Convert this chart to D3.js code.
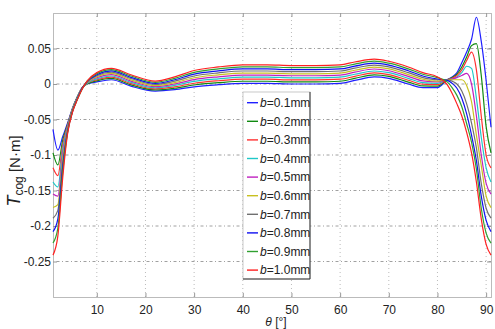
<!DOCTYPE html>
<html>
<head>
<meta charset="utf-8">
<script src="https://cdn.jsdelivr.net/npm/d3@7"></script>
<style>
  body { margin: 0; background: #fff; }
  text { font-family: "Liberation Sans", Arial, sans-serif; }
</style>
</head>
<body>
<div id="chart"></div>
<script>
// rotor angle, degrees
const thetaDeg = [1, 2, 3, 4, 5, 6, 7, 8, 10, 13, 17, 22, 26, 30, 35, 40, 45, 50, 55, 60, 63, 67, 70, 74, 77, 80, 82, 83, 84, 85, 86, 87, 88, 89, 90, 91];

// cogging torque, N·m, one array per b
const tcog01 = [-0.064, -0.093, -0.074, -0.055, -0.034, -0.018, -0.005, 0.000, 0.003, 0.006, -0.003, -0.010, -0.008, -0.004, -0.001, 0.001, 0.001, 0.000, 0.000, 0.001, 0.005, 0.010, 0.008, 0.000, -0.005, -0.005, 0.006, 0.010, 0.016, 0.030, 0.045, 0.063, 0.094, 0.060, 0.005, -0.061];
const tcog02 = [-0.097, -0.114, -0.079, -0.057, -0.035, -0.018, -0.005, 0.000, 0.0044, 0.0078, -0.0012, -0.0084, -0.006, -0.0014, 0.0018, 0.0039, 0.0039, 0.0029, 0.0029, 0.0039, 0.0079, 0.0128, 0.0107, 0.0027, -0.0027, -0.003, 0.006, 0.009, 0.014, 0.024, 0.038, 0.054, 0.057, 0.012, -0.060, -0.097];
const tcog03 = [-0.118, -0.129, -0.085, -0.058, -0.035, -0.019, -0.005, 0.001, 0.0059, 0.0096, 0.0006, -0.0069, -0.004, 0.0011, 0.0046, 0.0068, 0.0068, 0.0058, 0.0058, 0.0068, 0.0108, 0.0156, 0.0133, 0.0053, -0.0003, -0.001, 0.006, 0.008, 0.012, 0.020, 0.033, 0.045, 0.020, -0.045, -0.100, -0.118];
const tcog04 = [-0.138, -0.145, -0.091, -0.060, -0.036, -0.019, -0.006, 0.001, 0.0073, 0.0113, 0.0023, -0.0053, -0.002, 0.0037, 0.0073, 0.0097, 0.0097, 0.0087, 0.0087, 0.0097, 0.0137, 0.0183, 0.016, 0.008, 0.002, 0.001, 0.006, 0.007, 0.010, 0.016, 0.025, 0.022, -0.020, -0.075, -0.118, -0.138];
const tcog05 = [-0.155, -0.158, -0.098, -0.062, -0.037, -0.020, -0.006, 0.002, 0.0088, 0.0131, 0.0041, -0.0038, 0.000, 0.0062, 0.0101, 0.0126, 0.0126, 0.0116, 0.0116, 0.0126, 0.0166, 0.0211, 0.0187, 0.0107, 0.0043, 0.003, 0.006, 0.007, 0.009, 0.012, 0.015, 0.000, -0.045, -0.100, -0.140, -0.155];
const tcog06 = [-0.174, -0.170, -0.104, -0.064, -0.037, -0.020, -0.006, 0.002, 0.0102, 0.0149, 0.0059, -0.0022, 0.002, 0.0088, 0.0129, 0.0154, 0.0154, 0.0144, 0.0144, 0.0154, 0.0194, 0.0239, 0.0213, 0.0133, 0.0067, 0.004, 0.006, 0.006, 0.006, 0.006, -0.002, -0.025, -0.072, -0.115, -0.158, -0.174];
const tcog07 = [-0.189, -0.178, -0.111, -0.065, -0.038, -0.021, -0.006, 0.003, 0.0117, 0.0167, 0.0077, -0.0007, 0.004, 0.0113, 0.0157, 0.0183, 0.0183, 0.0173, 0.0173, 0.0183, 0.0223, 0.0267, 0.024, 0.016, 0.009, 0.006, 0.006, 0.004, 0.000, -0.010, -0.028, -0.055, -0.090, -0.140, -0.175, -0.189];
const tcog08 = [-0.208, -0.190, -0.117, -0.067, -0.039, -0.021, -0.006, 0.003, 0.0131, 0.0184, 0.0094, 0.0009, 0.006, 0.0139, 0.0184, 0.0212, 0.0212, 0.0202, 0.0202, 0.0212, 0.0252, 0.0294, 0.0267, 0.0187, 0.0113, 0.007, 0.005, 0.001, -0.006, -0.020, -0.042, -0.072, -0.108, -0.158, -0.192, -0.208];
const tcog09 = [-0.224, -0.203, -0.124, -0.068, -0.039, -0.022, -0.007, 0.004, 0.0146, 0.0202, 0.0112, 0.0024, 0.008, 0.0164, 0.0212, 0.0241, 0.0241, 0.0231, 0.0231, 0.0241, 0.0281, 0.0322, 0.0293, 0.0213, 0.0137, 0.009, 0.003, -0.005, -0.016, -0.032, -0.056, -0.082, -0.120, -0.175, -0.210, -0.224];
const tcog10 = [-0.241, -0.214, -0.132, -0.070, -0.040, -0.022, -0.007, 0.004, 0.016, 0.022, 0.013, 0.004, 0.010, 0.019, 0.024, 0.027, 0.027, 0.026, 0.026, 0.027, 0.031, 0.035, 0.032, 0.024, 0.016, 0.010, -0.001, -0.013, -0.028, -0.045, -0.068, -0.097, -0.138, -0.190, -0.226, -0.241];

const bValues = ['0.1', '0.2', '0.3', '0.4', '0.5', '0.6', '0.7', '0.8', '0.9', '1.0'];
const xTicks = [10, 20, 30, 40, 50, 60, 70, 80, 90];
const yTicks = [-0.25, -0.2, -0.15, -0.1, -0.05, 0, 0.05];

const seriesData = [tcog01, tcog02, tcog03, tcog04, tcog05, tcog06, tcog07, tcog08, tcog09, tcog10];
const colors = ['#1f1fff', '#108a10', '#ff3030', '#1fc8c8', '#c020c0', '#c8c020', '#707070', '#1010f0', '#30a030', '#ff2020'];

const width = 495;
const height = 329;
const margin = { top: 13, right: 4, bottom: 32, left: 53 };

const svg = d3.select('#chart')
  .append('svg')
  .attr('width', width)
  .attr('height', height)
  .attr('viewBox', [0, 0, width, height]);

const x = d3.scaleLinear()
  .domain([1, 91])
  .range([margin.left, width - margin.right]);

const y = d3.scaleLinear()
  .domain([-0.3, 0.1])
  .range([height - margin.bottom, margin.top]);

// grid
svg.append('g')
  .selectAll('line')
  .data(xTicks)
  .join('line')
  .attr('x1', (d) => x(d))
  .attr('x2', (d) => x(d))
  .attr('y1', y(-0.3))
  .attr('y2', y(0.1))
  .attr('stroke', '#aaa')
  .attr('stroke-width', 0.8)
  .attr('stroke-dasharray', '1 3');

svg.append('g')
  .selectAll('line')
  .data(yTicks)
  .join('line')
  .attr('x1', x(1))
  .attr('x2', x(91))
  .attr('y1', (d) => y(d))
  .attr('y2', (d) => y(d))
  .attr('stroke', '#888')
  .attr('stroke-width', 0.8)
  .attr('stroke-dasharray', '1 2.5 3 2.5');

// axes
svg.append('g')
  .attr('transform', `translate(0,${height - margin.bottom})`)
  .call(d3.axisBottom(x).tickValues(xTicks).tickSize(-4).tickPadding(8))
  .call((g) => g.select('.domain').attr('stroke', '#bbb'));

svg.append('g')
  .attr('transform', `translate(${margin.left},0)`)
  .call(d3.axisLeft(y).tickValues(yTicks).tickSize(-4).tickPadding(2).tickFormat((d) => d === 0 ? '0' : String(d)))
  .call((g) => g.select('.domain').attr('stroke', '#bbb'));

// top and right frame with inner ticks
svg.append('g')
  .attr('transform', `translate(0,${margin.top})`)
  .call(d3.axisTop(x).tickValues(xTicks).tickSize(-4).tickFormat(''))
  .call((g) => g.select('.domain').attr('stroke', '#bbb'));

svg.append('g')
  .attr('transform', `translate(${width - margin.right},0)`)
  .call(d3.axisRight(y).tickValues(yTicks).tickSize(-4).tickFormat(''))
  .call((g) => g.select('.domain').attr('stroke', '#bbb'));

svg.selectAll('.tick line').attr('stroke', '#999');
svg.selectAll('.tick text')
  .attr('font-size', 12)
  .attr('fill', '#222');

// curves
const line = d3.line()
  .x((d, i) => x(thetaDeg[i]))
  .y((d) => y(d))
  .curve(d3.curveMonotoneX);

svg.append('g')
  .selectAll('path')
  .data(seriesData)
  .join('path')
  .attr('fill', 'none')
  .attr('stroke', (d, i) => colors[i])
  .attr('stroke-width', 1.2)
  .attr('d', (d) => line(d));

// legend
const legend = svg.append('g').attr('transform', 'translate(243,92)');
const legW = 67;
const legH = 187;

legend.append('rect')
  .attr('width', legW)
  .attr('height', legH)
  .attr('fill', '#fff')
  .attr('stroke', '#bbb')
  .attr('stroke-width', 0.8);

legend.append('path')
  .attr('d', `M${legW},0V${legH}H0`)
  .attr('fill', 'none')
  .attr('stroke', '#333')
  .attr('stroke-width', 1);

const entries = legend.selectAll('.entry')
  .data(bValues)
  .join('g')
  .attr('class', 'entry')
  .attr('transform', (d, i) => `translate(0,${10.7 + i * 18.6})`);

entries.append('line')
  .attr('x1', 4)
  .attr('x2', 15)
  .attr('stroke', (d, i) => colors[i])
  .attr('stroke-width', 1.4);

entries.append('text')
  .attr('x', 17)
  .attr('dy', '0.36em')
  .attr('font-size', 12)
  .attr('fill', '#222')
  .call((t) => t.append('tspan').attr('font-style', 'italic').text('b'))
  .call((t) => t.append('tspan').text((d) => `=${d}mm`));

// axis labels
svg.append('text')
  .attr('x', 276)
  .attr('y', 326)
  .attr('text-anchor', 'middle')
  .attr('font-size', 12)
  .attr('fill', '#222')
  .call((t) => t.append('tspan').attr('font-style', 'italic').text('θ'))
  .call((t) => t.append('tspan').text(' [°]'));

svg.append('text')
  .attr('transform', 'translate(20,171) rotate(-90)')
  .attr('text-anchor', 'middle')
  .attr('fill', '#222')
  .attr('font-size', 15)
  .call((t) => t.append('tspan').attr('font-style', 'italic').attr('font-size', 18).text('T'))
  .call((t) => t.append('tspan').attr('font-size', 12).attr('dy', 3).text('cog'))
  .call((t) => t.append('tspan').attr('dy', -3).text(' [N·m]'));
</script>
</body>
</html>
